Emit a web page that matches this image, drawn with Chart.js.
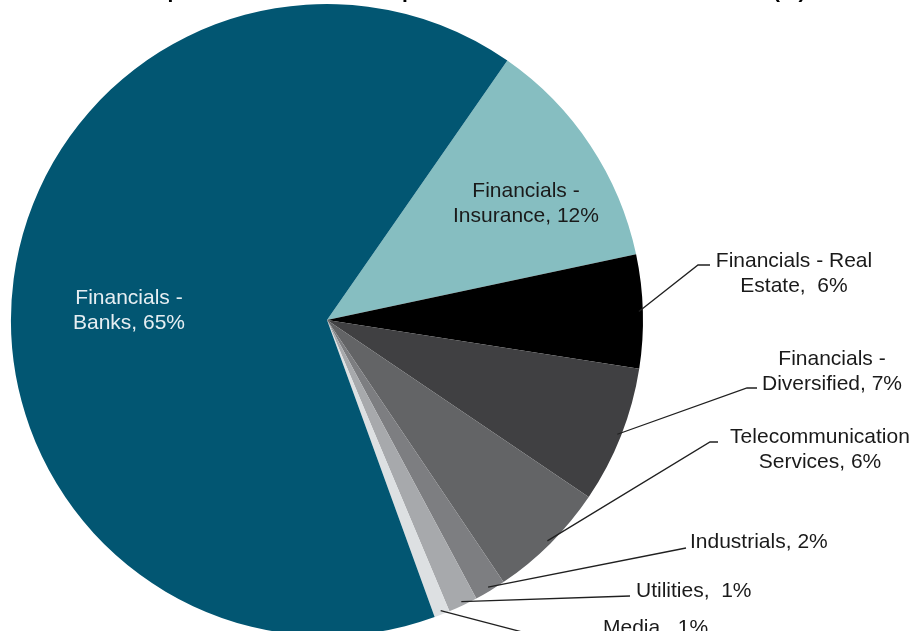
<!DOCTYPE html>
<html lang="en">
<head>
    <meta charset="UTF-8">
    <title>Sector composition</title>
    <script src="https://cdn.jsdelivr.net/npm/chart.js"></script>
    <style>
        html, body { margin: 0; padding: 0; background: #fff; overflow: hidden; }
        #wrap { position: relative; width: 916px; height: 640px; }
    </style>
</head>
<body>
    <div id="wrap"><canvas id="sectorChart"></canvas></div>

    <script>
        // data (clockwise, starting at the Insurance slice)
        let sectors = ['Financials - Insurance', 'Financials - Real Estate', 'Financials - Diversified',
            'Telecommunication Services', 'Industrials', 'Utilities', 'Media', 'Financials - Banks'];
        let shares = [12.0, 5.8, 7.0, 6.1, 1.6, 1.5, 0.8, 65.2];
        let shownPct = ['12%', '6%', '7%', '6%', '2%', '1%', '1%', '65%'];
        // how each label is broken over lines
        let labelLines = [
            ['Financials -', 'Insurance, ' + shownPct[0]],
            ['Financials - Real', 'Estate,  ' + shownPct[1]],
            ['Financials -', 'Diversified, ' + shownPct[2]],
            ['Telecommunication', 'Services, ' + shownPct[3]],
            ['Industrials, ' + shownPct[4]],
            ['Utilities,  ' + shownPct[5]],
            ['Media,  ' + shownPct[6]],
            ['Financials -', 'Banks, ' + shownPct[7]]
        ];
        let colors = ['#86bec1', '#000000', '#404042', '#636466', '#7d7e81', '#a7a9ac', '#dde0e2', '#025672'];

        // label placement (baseline of first line) and leader lines
        let labelPos = [
            { x: 526, y: 197, align: 'center', color: '#1a1a1a' },
            { x: 794, y: 267, align: 'center', elbow: [698, 265], end: [710, 265] },
            { x: 832, y: 365, align: 'center', elbow: [747, 388], end: [757, 388] },
            { x: 820, y: 443, align: 'center', elbow: [710, 442], end: [718, 442] },
            { x: 690, y: 548, align: 'left', end: [686, 548] },
            { x: 636, y: 597, align: 'left', end: [630, 596] },
            { x: 603, y: 634, align: 'left', end: [610, 655] },
            { x: 129, y: 304, align: 'center', color: '#e6eef2' }
        ];
        let font = '21px "Liberation Sans", Arial, sans-serif';

        let labelPlugin = {
            id: 'sectorLabels',
            afterDatasetsDraw(chart) {
                let ctx = chart.ctx;
                let arcs = chart.getDatasetMeta(0).data;
                ctx.save();
                // title, cut off by the top edge
                ctx.font = 'bold 21px "Liberation Sans", Arial, sans-serif';
                ctx.fillStyle = '#000';
                ctx.textAlign = 'left';
                ctx.textBaseline = 'alphabetic';
                ctx.fillText('Market Capitalisation Sector Composition of the Financial Stock Index (%)', 67, -2);

                ctx.font = font;
                arcs.forEach((arc, i) => {
                    let p = labelPos[i];
                    if (p.end) {
                        let mid = (arc.startAngle + arc.endAngle) / 2;
                        let r = arc.outerRadius - 4;
                        ctx.beginPath();
                        ctx.moveTo(arc.x + r * Math.cos(mid), arc.y + r * Math.sin(mid));
                        if (p.elbow) ctx.lineTo(p.elbow[0], p.elbow[1]);
                        ctx.lineTo(p.end[0], p.end[1]);
                        ctx.strokeStyle = '#202020';
                        ctx.lineWidth = 1.3;
                        ctx.stroke();
                    }
                    ctx.fillStyle = p.color || '#1a1a1a';
                    ctx.textAlign = p.align;
                    labelLines[i].forEach((line, j) => {
                        ctx.fillText(line, p.x, p.y + j * 24.5);
                    });
                });
                ctx.restore();
            }
        };

        new Chart(document.getElementById('sectorChart').getContext('2d'), {
            type: 'pie',
            data: {
                labels: sectors,
                datasets: [{ data: shares, backgroundColor: colors, borderWidth: 0 }]
            },
            options: {
                responsive: true,
                maintainAspectRatio: false,
                animation: false,
                rotation: 34.8,
                layout: { padding: { left: 11, right: 273, top: 4, bottom: 4 } },
                plugins: { legend: { display: false }, tooltip: { enabled: false } }
            },
            plugins: [labelPlugin]
        });
    </script>
</body>
</html>
